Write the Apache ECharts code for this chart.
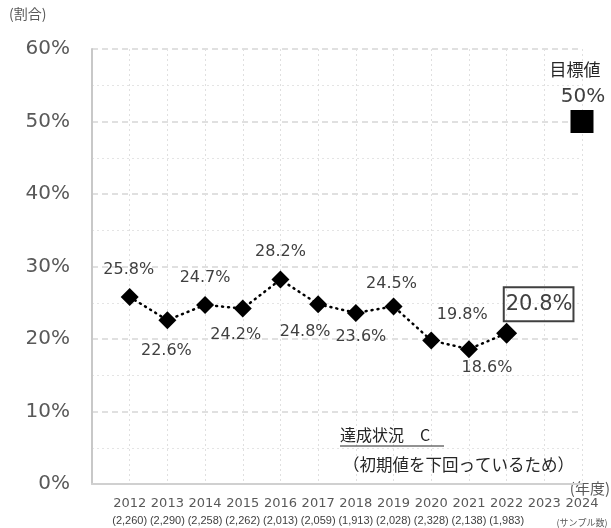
<!DOCTYPE html>
<html>
<head>
<meta charset="utf-8">
<script src="https://cdn.jsdelivr.net/npm/echarts@6/dist/echarts.min.js"></script>
<style>
  html, body { margin: 0; padding: 0; background: #fff; }
  #chart { width: 611px; height: 528px; }
</style>
</head>
<body>
<div id="chart"></div>
<script>
// 年度・サンプル数・割合
var years = ['', '2012', '2013', '2014', '2015', '2016', '2017', '2018', '2019', '2020', '2021', '2022', '2023', '2024'];
var samples = ['', '(2,260)', '(2,290)', '(2,258)', '(2,262)', '(2,013)', '(2,059)', '(1,913)', '(2,028)', '(2,328)', '(2,138)', '(1,983)', '', ''];
var rates = [null, 25.8, 22.6, 24.7, 24.2, 28.2, 24.8, 23.6, 24.5, 19.8, 18.6, 20.8, null, null];
var targetYear = '2024';
var targetValue = 50;

// ラベル位置（マーカー中心からのずれ）
var labelOffsets = [null, [-1, -27], [-1, 31], [0, -27], [-7, 26], [0, -28], [-13, 28], [5, 24], [-2, -23], [31, -26], [18, 19], [32, -29]];

var chart = echarts.init(document.getElementById('chart'));

var lineData = rates.map(function (v, i) {
    if (v === null) return null;
    var item = {
        value: v,
        label: { offset: labelOffsets[i] }
    };
    if (i === 11) {
        item.symbolSize = 21;
        item.label = {
            offset: labelOffsets[i],
            fontSize: 21,
            lineHeight: 26,
            borderColor: '#404040',
            borderWidth: 2,
            padding: [5, 1, 3, 2]
        };
    }
    return item;
});

var targetData = years.map(function (y) {
    return y === targetYear ? targetValue : null;
});

var option = {
    animation: false,
    grid: { left: 92, right: 29, top: 49, bottom: 44 },
    xAxis: {
        type: 'category',
        boundaryGap: false,
        data: years,
        axisLine: { lineStyle: { color: '#d0d0d0', width: 2 } },
        axisTick: { show: false },
        splitLine: { show: true, interval: 0, lineStyle: { color: '#e0e0e0', type: [2, 3], width: 1 } },
        axisLabel: {
            interval: 0,
            margin: 11,
            formatter: function (val, idx) {
                if (!val) return '';
                if (val === targetYear) return '{y|' + val + '}\n{n|(サンプル数)}';
                return '{y|' + val + '}\n{s|' + samples[idx] + '}';
            },
            rich: {
                y: { fontFamily: 'DejaVu Sans', fontSize: 13, color: '#595959', lineHeight: 17 },
                s: { fontFamily: 'Liberation Sans', fontSize: 11, color: '#404040', lineHeight: 17 },
                n: { fontFamily: 'Noto Sans CJK JP', fontSize: 9, color: '#595959', lineHeight: 19, padding: [3, 0, 0, 0] }
            }
        }
    },
    yAxis: {
        type: 'value',
        min: 0,
        max: 60,
        interval: 10,
        axisLine: { show: true, lineStyle: { color: '#c8c8c8', width: 2 } },
        axisTick: { show: false },
        axisLabel: {
            formatter: '{value}%',
            fontFamily: 'DejaVu Sans',
            fontSize: 20,
            color: '#595959',
            margin: 22
        },
        splitLine: { lineStyle: { color: '#d6d6d6', type: [6, 4], width: 1.5 } },
        minorTick: { show: false, splitNumber: 2 },
        minorSplitLine: { show: true, lineStyle: { color: '#e4e4e4', type: [2, 3], width: 1 } }
    },
    series: [
        {
            name: '割合',
            type: 'line',
            data: lineData,
            connectNulls: false,
            symbol: 'diamond',
            symbolSize: 18,
            itemStyle: { color: '#000' },
            lineStyle: { color: '#000', width: 2.5, type: [1, 5], cap: 'round' },
            label: {
                show: true,
                position: 'inside',
                formatter: '{c}%',
                fontFamily: 'DejaVu Sans',
                fontSize: 16,
                color: '#404040'
            },
            z: 3
        },
        {
            name: '目標値',
            type: 'scatter',
            data: targetData,
            symbol: 'rect',
            symbolSize: 23,
            itemStyle: { color: '#000', opacity: 1 },
            label: {
                show: true,
                position: 'inside',
                offset: [-2, -39],
                formatter: '{a|目標値}\n{b|50%}',
                rich: {
                    a: { fontFamily: 'Noto Sans CJK JP', fontSize: 17, color: '#262626', lineHeight: 28, align: 'center', padding: [0, 10, 0, 0] },
                    b: { fontFamily: 'DejaVu Sans', fontSize: 20, color: '#404040', lineHeight: 26, align: 'center', padding: [0, 0, 0, 6] }
                }
            },
            z: 4
        }
    ],
    graphic: [
        {
            type: 'text', left: 9, top: 7,
            style: { text: '(割合)', fontFamily: 'Noto Sans CJK JP', fontSize: 14, fill: '#595959' }
        },
        {
            type: 'text', right: 1, top: 481,
            style: { text: '(年度)', fontFamily: 'Noto Sans CJK JP', fontSize: 15, fill: '#595959' }
        },
        {
            type: 'text', left: 340, top: 427,
            style: { text: '達成状況　C', fontFamily: 'Noto Sans CJK JP', fontSize: 16, fill: '#262626' },
            z: 10
        },
        {
            type: 'line',
            shape: { x1: 340, y1: 446, x2: 444, y2: 446 },
            style: { stroke: '#262626', lineWidth: 1.2 },
            z: 10
        },
        {
            type: 'text', left: 343, top: 456,
            style: { text: '（初期値を下回っているため）', fontFamily: 'Noto Sans CJK JP', fontSize: 16.5, fill: '#262626' },
            z: 10
        }
    ]
};

chart.setOption(option);
</script>
</body>
</html>
